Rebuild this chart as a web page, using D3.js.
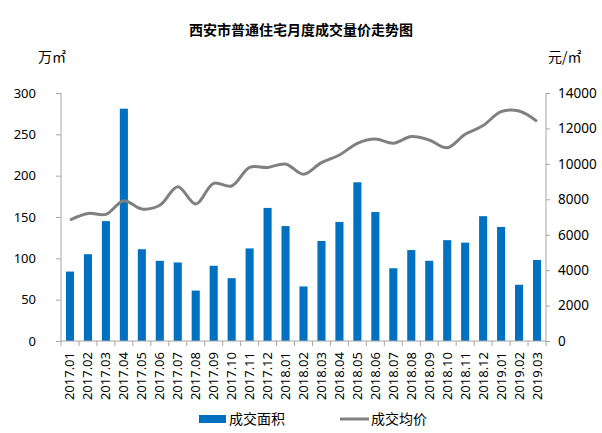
<!DOCTYPE html>
<html><head><meta charset="utf-8">
<script src="https://cdn.jsdelivr.net/npm/d3@7"></script>
<style>body{margin:0;background:#fff}svg{display:block}text{font-family:"Noto Sans CJK SC","Noto Sans",sans-serif}</style>
</head><body><svg id="c" width="602" height="433"></svg>
<script>
const months = ["2017.01","2017.02","2017.03","2017.04","2017.05","2017.06","2017.07","2017.08","2017.09","2017.10","2017.11","2017.12","2018.01","2018.02","2018.03","2018.04","2018.05","2018.06","2018.07","2018.08","2018.09","2018.10","2018.11","2018.12","2019.01","2019.02","2019.03"];
const area = [84,105,145,281,111,97,95,61,91,76,112,161,139,66,121,144,192,156,88,110,97,122,119,151,138,68,98];
const price = [6830,7200,7150,7920,7450,7660,8710,7730,8900,8750,9800,9800,9990,9410,10070,10500,11160,11400,11160,11540,11350,10910,11670,12160,12950,12980,12400];
const leftTicks = [0,50,100,150,200,250,300];
const rightTicks = [0,2000,4000,6000,8000,10000,12000,14000];
const title = "西安市普通住宅月度成交量价走势图";

const svg = d3.select("#c");
const L=61,R=546,T=93,B=341;
const x = d3.scaleBand().domain(months).range([L,R]).paddingInner(0.55).paddingOuter(0.275);
const xb = d3.scaleBand().domain(months).range([L,R]);
const yL = d3.scaleLinear().domain([0,300]).range([B,T]);
const yR = d3.scaleLinear().domain([0,14000]).range([B,T]);
const axisColor="#a6a6a6";

svg.append("text").attr("x",301).attr("y",35).attr("text-anchor","middle")
  .attr("font-size",14).attr("font-weight","bold").attr("fill","#000").text(title);
svg.append("text").attr("x",38).attr("y",62).attr("font-size",14).attr("fill","#000").text("万㎡");
svg.append("text").attr("x",548).attr("y",62).attr("font-size",14).attr("fill","#000").text("元/㎡");

// bars
svg.append("g").selectAll("rect").data(area).join("rect")
  .attr("x",(d,i)=>x(months[i])).attr("width",x.bandwidth())
  .attr("y",d=>yL(d)).attr("height",d=>B-yL(d)).attr("fill","#0070C0");

// line
svg.append("path").datum(price)
  .attr("d",d3.line().x((d,i)=>xb(months[i])+xb.bandwidth()/2).y(d=>yR(d)).curve(d3.curveCatmullRom.alpha(0.5)))
  .attr("fill","none").attr("stroke","#808080").attr("stroke-width",3);

// left axis
const gL = svg.append("g").attr("transform",`translate(${L},0)`)
  .call(d3.axisLeft(yL).tickValues(leftTicks).tickSize(5).tickPadding(20));
gL.selectAll("path,line").attr("stroke",axisColor);
gL.selectAll("text").attr("font-size",13).attr("fill","#000").style("font-family","'Noto Sans','Noto Sans CJK SC',sans-serif");
gL.select(".domain").attr("d",`M0,${T}V${B}`);

// right axis
const gR = svg.append("g").attr("transform",`translate(${R},0)`)
  .call(d3.axisRight(yR).tickValues(rightTicks).tickFormat(d3.format("d")).tickSize(4).tickPadding(8));
gR.selectAll("path,line").attr("stroke",axisColor);
gR.selectAll("text").attr("font-size",13.5).attr("fill","#000").style("font-family","'Noto Sans','Noto Sans CJK SC',sans-serif");
gR.select(".domain").attr("d",`M0,${T}V${B}`);

// x axis
const gX = svg.append("g").attr("transform",`translate(0,${B})`);
gX.append("line").attr("x1",L).attr("x2",R).attr("stroke",axisColor);
gX.selectAll("line.t").data(months.concat(["end"])).join("line").attr("class","t")
  .attr("x1",(d,i)=>L+i*xb.bandwidth()).attr("x2",(d,i)=>L+i*xb.bandwidth())
  .attr("y1",0).attr("y2",5).attr("stroke",axisColor);
gX.selectAll("text").data(months).join("text")
  .attr("transform",d=>`translate(${xb(d)+xb.bandwidth()/2+4.5},11) rotate(-90)`)
  .attr("text-anchor","end").attr("font-size",13).attr("fill","#000")
  .style("font-family","'Noto Sans','Noto Sans CJK SC',sans-serif").text(d=>d);

// legend
const lg = svg.append("g");
lg.append("rect").attr("x",199).attr("y",415).attr("width",27).attr("height",8).attr("fill","#0070C0");
lg.append("text").attr("x",229).attr("y",424).attr("font-size",14).attr("fill","#000").text("成交面积");
lg.append("line").attr("x1",340).attr("x2",369).attr("y1",419).attr("y2",419).attr("stroke","#808080").attr("stroke-width",3);
lg.append("text").attr("x",371).attr("y",424).attr("font-size",14).attr("fill","#000").text("成交均价");
</script></body></html>
